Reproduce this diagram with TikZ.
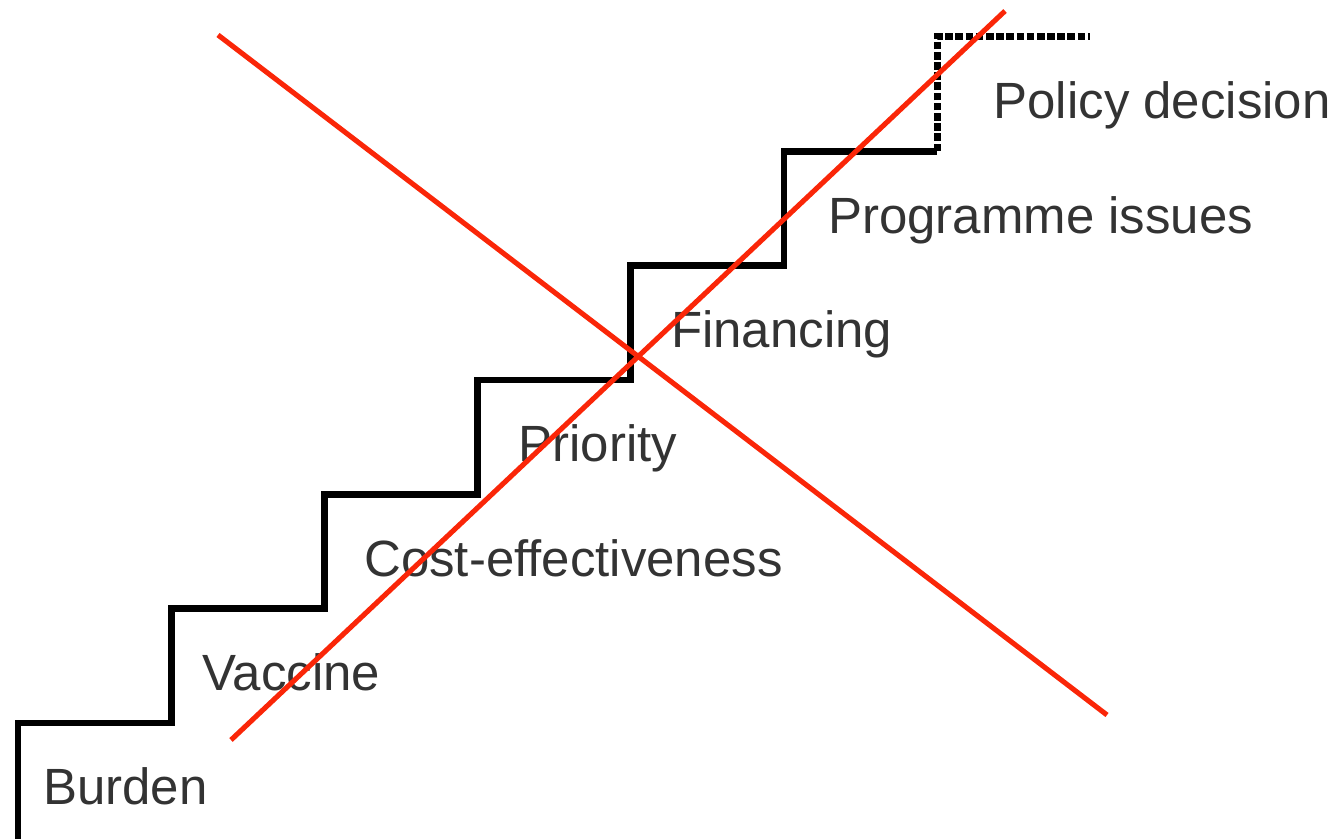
\documentclass[tikz,border=0pt]{standalone}
\usepackage{fontspec}
\setmainfont{Liberation Sans}
\usepackage{tikz}
\usetikzlibrary{positioning}
\usetikzlibrary{calc}

\definecolor{crossred}{RGB}{250,38,8}

\begin{document}
\begin{tikzpicture}[
    stair/.style={line width=3.8pt, line join=miter},
    stairdots/.style={line width=4pt, line join=miter, dash pattern=on 4.4pt off 1.4pt},
    steplabel/.style={anchor=base west, inner sep=0pt, text=black!80, font=\fontsize{29}{34}\selectfont},
    crossline/.style={crossred, line width=2.9pt}
]

    \useasboundingbox (0,0) rectangle (26.8,16.78);

    % corners of the treads
    \foreach \i in {0,...,6} {
        \coordinate (s\i) at ({0.36+3.064*\i}, {2.32+2.287*\i});
    }
    \coordinate (base) at (0.36,0);
    \coordinate[right=3.06cm of s6] (top);

    \draw[stair] (base) -- (s0) -| (s1) -| (s2) -| (s3) -| (s4) -| (s5) -- (s5 -| s6) coordinate (corner);
    \draw[stairdots] (corner) -- (s6) -- (top);

    % one label under each tread
    \foreach \i/\dx/\name in {0/0.50/Burden, 1/0.62/Vaccine, 2/0.79/Cost-effectiveness,
                              3/0.81/Priority, 4/0.80/Financing, 5/0.88/Programme issues,
                              6/1.12/Policy decision} {
        \node[steplabel] (l\i) at ($(s\i)+(\dx,-1.64)$) {\name};
    }

    % the cross
    \coordinate (xa) at (4.36,16.08);
    \coordinate (xb) at (22.14,2.48);
    \coordinate (xc) at (4.62,1.98);
    \coordinate (xd) at (20.1,16.56);
    \draw[crossline] (xa) -- (xb);
    \draw[crossline] (xc) -- (xd);

\end{tikzpicture}
\end{document}
